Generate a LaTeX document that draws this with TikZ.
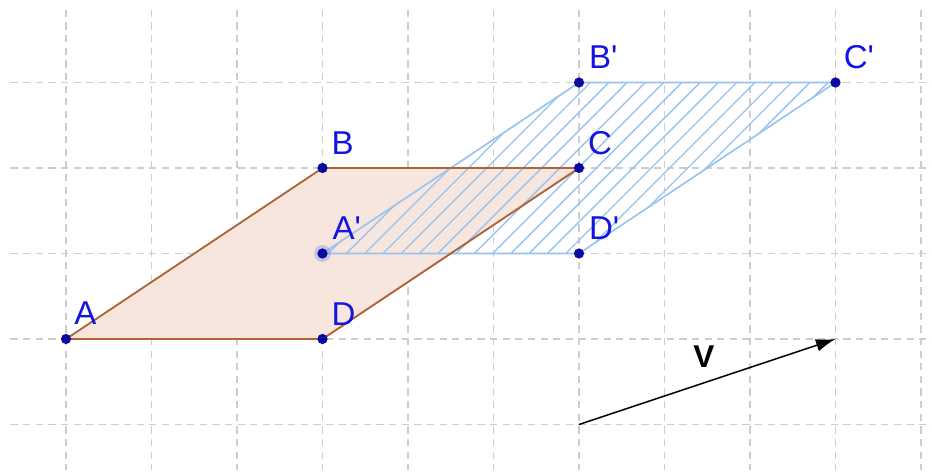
\documentclass[tikz,border=0pt]{standalone}
\usepackage{fontspec}
\setmainfont{Liberation Sans}
\usetikzlibrary{arrows.meta,patterns.meta,calc}
\definecolor{gridgray}{RGB}{205,205,205}
\definecolor{brownline}{RGB}{178,98,52}
\definecolor{brownfill}{RGB}{246,230,222}
\definecolor{hatchblue}{RGB}{150,195,240}
\definecolor{ptblue}{RGB}{10,10,160}
\definecolor{lblblue}{RGB}{20,20,225}
\tikzset{
  gridline/.style={gridgray, line width=0.45pt, dash pattern=on 2.4pt off 1.8pt},
  ptlabel/.style={anchor=base west, inner sep=0pt, text=lblblue, font=\fontsize{11}{13}\selectfont},
  ptdot/.style={circle, fill=ptblue, inner sep=0pt, minimum size=3.4pt},
}
\begin{document}
\begin{tikzpicture}[x=1cm,y=1cm]
\useasboundingbox (-0.772,-1.556) rectangle (10.129,3.965);
\fill[white] (-0.772,-1.556) rectangle (10.129,3.965);
% grid
\foreach \x in {0,...,10} \draw[gridline] (\x,3.85) -- (\x,-1.53);
\foreach \y in {-1,...,3} \draw[gridline] (-0.65,\y) -- (10.13,\y);
% coordinates
\coordinate (A) at (0,0);
\coordinate (B) at (3,2);
\coordinate (C) at (6,2);
\coordinate (D) at (3,0);
\coordinate (A1) at (3,1);
\coordinate (B1) at (6,3);
\coordinate (C1) at (9,3);
\coordinate (D1) at (6,1);
\coordinate (V0) at (6,-1);
\coordinate (V1) at (9,0);
% original parallelogram
\fill[brownfill] (A) -- (B) -- (C) -- (D) -- cycle;
% translated parallelogram
\fill[pattern={Lines[angle=45,distance=4.3pt,line width=0.45pt]}, pattern color=hatchblue] (A1) -- (B1) -- (C1) -- (D1) -- cycle;
\draw[hatchblue, line width=0.55pt, line join=round] (A1) -- (B1) -- (C1) -- (D1) -- cycle;
\draw[brownline, line width=0.6pt, line join=round] (A) -- (B) -- (C) -- (D) -- cycle;
% vector
\draw[line width=0.5pt, -{Latex[length=6.5pt,width=4.2pt]}] (V0) -- (V1);
\node[anchor=base west, inner sep=0pt, font=\bfseries\fontsize{10.5}{12}\selectfont] (vlab) at (7.33,-0.33) {V};
% points
\fill[hatchblue!70!ptblue, opacity=0.35] (A1) circle (2.8pt);
\foreach \p in {A,B,C,D,A1,B1,C1,D1} \node[ptdot] (dot\p) at (\p) {};
% labels
\node[ptlabel] (lA) at ($(A)+(0.09,0.17)$) {A};
\node[ptlabel] (lB) at ($(B)+(0.1,0.16)$) {B};
\node[ptlabel] (lC) at ($(C)+(0.1,0.16)$) {C};
\node[ptlabel] (lD) at ($(D)+(0.1,0.16)$) {D};
\node[ptlabel] (lA1) at ($(A1)+(0.11,0.16)$) {A\textquotesingle};
\node[ptlabel] (lB1) at ($(B1)+(0.11,0.16)$) {B\textquotesingle};
\node[ptlabel] (lC1) at ($(C1)+(0.09,0.16)$) {C\textquotesingle};
\node[ptlabel] (lD1) at ($(D1)+(0.11,0.16)$) {D\textquotesingle};
\end{tikzpicture}
\end{document}
